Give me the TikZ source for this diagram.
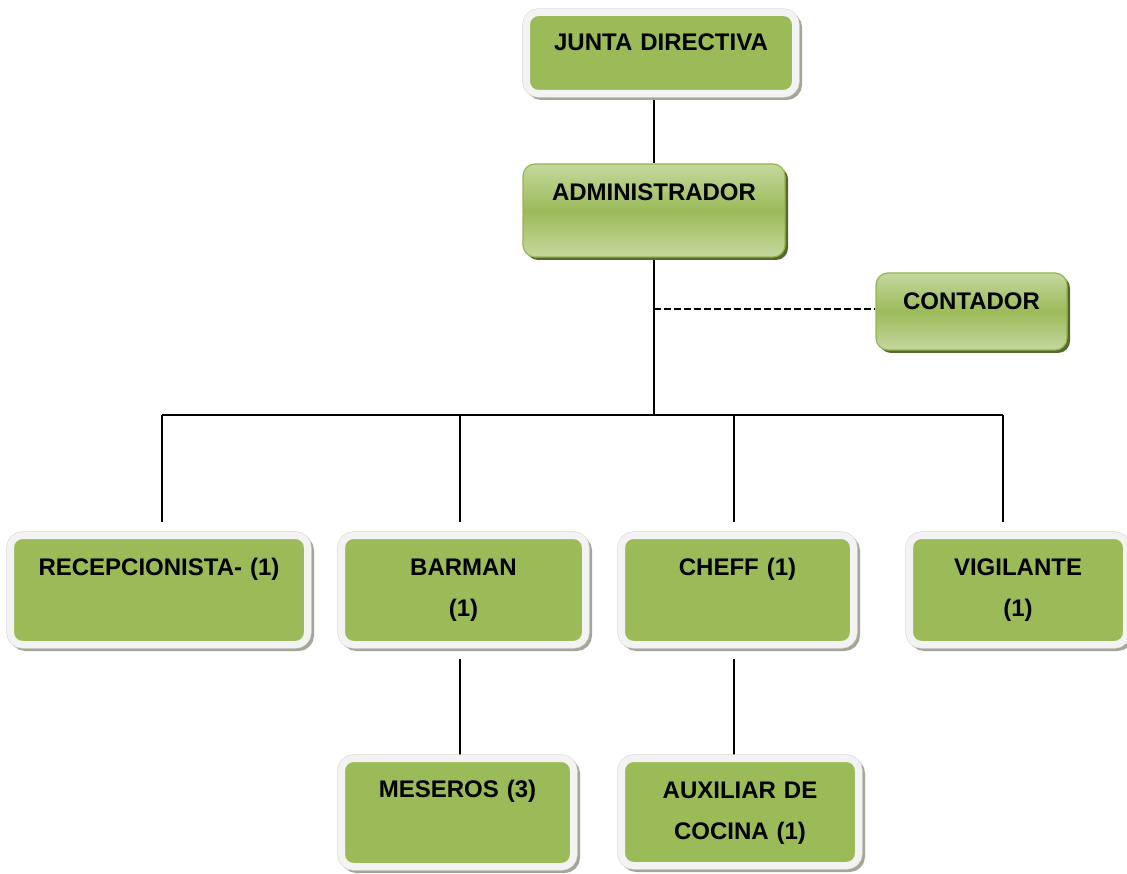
\documentclass[tikz,border=0pt]{standalone}
\usepackage{fontspec}
\setmainfont{Liberation Sans}
\usetikzlibrary{backgrounds}

\definecolor{leaf}{HTML}{9BBB59}
\definecolor{leafL}{HTML}{C5D89E}
\definecolor{leafD}{HTML}{93B551}
\definecolor{olive}{HTML}{56692C}
\definecolor{frame}{HTML}{F3F3F3}
\definecolor{rim}{HTML}{D6D6D6}
\definecolor{shade}{HTML}{A3A797}

\newcommand{\labelfont}{\fontsize{24}{41}\selectfont\bfseries}

\begin{document}
\begin{tikzpicture}[x=1pt, y=-1pt]
    \tikzstyle{unit} = [rectangle, rounded corners=12pt, inner sep=0pt, align=center, font=\labelfont,
        preaction={fill=shade, draw=shade, line width=7pt, transform canvas={shift={(3pt,-3pt)}}},
        preaction={draw=rim, line width=8.2pt},
        fill=leaf, draw=frame, line width=7pt]
    \tikzstyle{office} = [rectangle, rounded corners=12pt, inner sep=0pt, align=center, font=\labelfont,
        preaction={fill=olive, transform canvas={shift={(3pt,-3pt)}}},
        top color=leafL, bottom color=leafL, middle color=leaf, draw=leafD, line width=1.2pt]
    \tikzstyle{line} = [line width=1.2pt, black]
    \tikzstyle{dashline} = [line width=1.5pt, black, dash pattern=on 7pt off 3pt]

    \useasboundingbox (0,0) rectangle (1127,874);

    % top of the chart
    \node (junta) [unit, text width=269pt, text height=38.1pt, text depth=42.9pt] at (661,53) {JUNTA DIRECTIVA};
    \node (admin) [office, text width=262pt, text height=36.6pt, text depth=56.4pt] at (654,210.5) {ADMINISTRADOR};
    \node (contador) [office, text width=191pt, text height=36.6pt, text depth=40.4pt] at (971.5,311.5) {CONTADOR};

    % staff
    \node (recep) [unit, text width=297pt, text height=40.1pt, text depth=68.9pt] at (159,590) {RECEPCIONISTA- (1)};
    \node (barman) [unit, text width=244pt, text height=40.1pt, text depth=68.9pt] at (463.5,590) {BARMAN\\(1)};
    \node (cheff) [unit, text width=232pt, text height=40.1pt, text depth=68.9pt] at (737.5,590) {CHEFF (1)};
    \node (vigil) [unit, text width=217pt, text height=40.1pt, text depth=68.9pt] at (1018,590) {VIGILANTE\\(1)};
    \node (meseros) [unit, text width=232pt, text height=39.1pt, text depth=68.9pt] at (457.5,812.5) {MESEROS (3)};
    \node (aux) [unit, text width=237pt, text height=40.1pt, text depth=66.9pt] at (740,812) {AUXILIAR DE\\COCINA (1)};

    \coordinate (tap) at (654,309);
    \coordinate (hub) at (654,415);

    \begin{pgfonlayer}{background}
        \draw [line] (junta.south -| admin.north) -- (admin.north);
        \draw [line] (admin.south) -- (hub);
        \draw [dashline] (tap) -- (tap -| contador.west);
        \draw [line] ([xshift=3pt]recep.north |- hub) -- ([xshift=-15pt]vigil.north |- hub);
        \foreach \n/\dx in {recep/3, barman/-3.5, cheff/-3.5, vigil/-15}
            \draw [line, shorten >=10.5pt] ([xshift=\dx pt]\n.north |- hub) -- ([xshift=\dx pt]\n.north);
        \draw [line, shorten <=10.5pt] ([xshift=-3.5pt]barman.south) -- ([xshift=-3.5pt]barman.south |- meseros.north);
        \draw [line, shorten <=10.5pt] ([xshift=-3.5pt]cheff.south) -- ([xshift=-3.5pt]cheff.south |- aux.north);
    \end{pgfonlayer}
\end{tikzpicture}
\end{document}
